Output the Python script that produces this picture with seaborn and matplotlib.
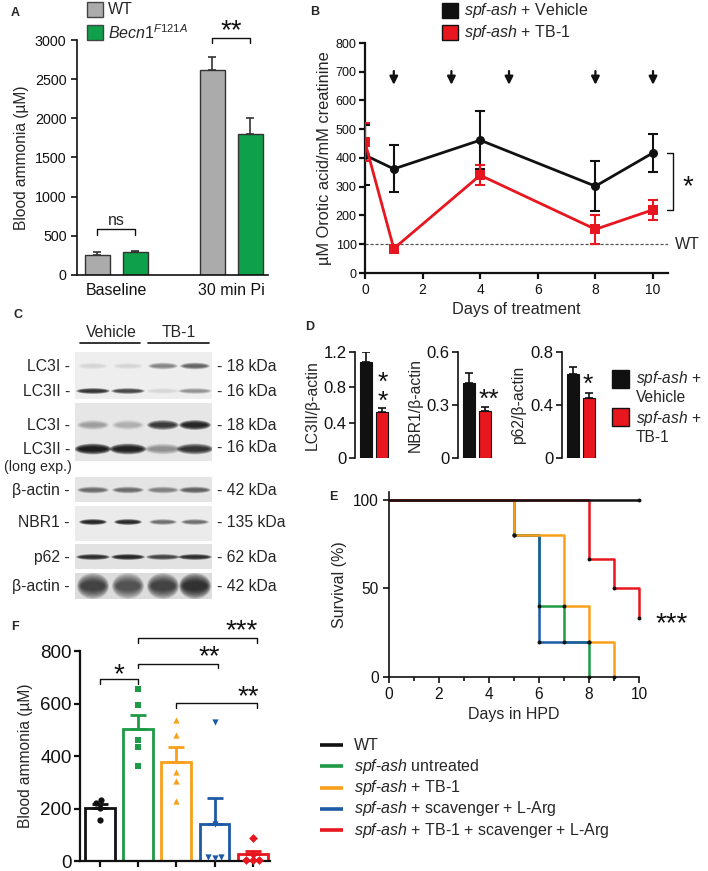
import numpy as np
import pandas as pd
import seaborn as sns
import matplotlib
matplotlib.use('Agg')
import matplotlib.pyplot as plt
from matplotlib.patches import Ellipse, Rectangle

# ---------------- data ----------------
# Panel A
a_groups = ['Baseline', '30 min Pi']
a_wt = [260, 2620]
a_wt_sem = [28, 160]
a_mut = [295, 1800]
a_mut_sem = [15, 200]

# Panel B
b_days = [0, 1, 4, 8, 10]
b_vehicle = [410, 362, 462, 302, 418]
b_vehicle_sem = [105, 82, 100, 88, 67]
b_tb1 = [455, 85, 340, 152, 220]
b_tb1_sem = [65, 13, 35, 51, 35]
b_dosing_days = [1, 3, 5, 8, 10]
b_wt_level = 100

# Panel C blot band intensities (lanes: Vehicle, Vehicle, TB-1, TB-1)
c_lc3i_short = [0.06, 0.06, 0.30, 0.45]
c_lc3ii_short = [0.75, 0.60, 0.05, 0.25]
c_lc3i_long = [0.20, 0.15, 0.70, 0.90]
c_lc3ii_long = [1.00, 0.95, 0.25, 0.75]
c_actin_1 = [0.40, 0.40, 0.30, 0.45]
c_nbr1 = [0.90, 0.85, 0.40, 0.40]
c_p62 = [0.80, 0.90, 0.60, 0.80]
c_actin_2 = [0.60, 0.50, 0.60, 0.75]

# Panel D
d_labels = ['LC3II/β-actin', 'NBR1/β-actin', 'p62/β-actin']
d_vehicle = [1.09, 0.425, 0.634]
d_vehicle_sem = [0.11, 0.057, 0.055]
d_tb1 = [0.52, 0.266, 0.455]
d_tb1_sem = [0.046, 0.025, 0.033]
d_ymax = [1.2, 0.6, 0.8]
d_ticks = [[0, 0.4, 0.8, 1.2], [0, 0.3, 0.6], [0, 0.4, 0.8]]
d_ticklabels = [['0', '0.4', '0.8', '1.2'], ['0', '0.3', '0.6'], ['0', '0.4', '0.8']]

# Panel E (Kaplan-Meier steps)
e_wt_days = [0, 10]
e_wt_surv = [100, 100]
e_untr_days = [0, 5, 6, 7, 8]
e_untr_surv = [100, 80, 40, 20, 0]
e_tb1_days = [0, 5, 7, 8, 9]
e_tb1_surv = [100, 80, 40, 20, 0]
e_scav_days = [0, 5, 6, 8]
e_scav_surv = [100, 80, 20, 20]
e_combo_days = [0, 8, 9, 10]
e_combo_surv = [100, 66.7, 50, 33.3]

# Panel F
f_groups = ['WT', 'untreated', 'TB-1', 'scavenger', 'combo']
f_wt = [233, 220, 201, 157]
f_untr = [655, 596, 462, 434, 361]
f_tb1 = [539, 481, 340, 305, 227]
f_scav = [529, 140, 16, 13, 15]
f_combo = [88, 28, 4, 3, 2]
f_sem = [15, 53, 57, 97, 14]

legend_labels = ['WT',
                 r'$\mathit{spf}$-$\mathit{ash}$ untreated',
                 r'$\mathit{spf}$-$\mathit{ash}$ + TB-1',
                 r'$\mathit{spf}$-$\mathit{ash}$ + scavenger + L-Arg',
                 r'$\mathit{spf}$-$\mathit{ash}$ + TB-1 + scavenger + L-Arg']

# ---------------- style ----------------
sns.set_style('ticks')
plt.rcParams['font.family'] = ['Liberation Sans', 'DejaVu Sans']
plt.rcParams['mathtext.fontset'] = 'custom'
plt.rcParams['mathtext.rm'] = 'Liberation Sans'
plt.rcParams['mathtext.it'] = 'Liberation Sans:italic'
plt.rcParams['mathtext.bf'] = 'Liberation Sans:bold'
plt.rcParams['axes.edgecolor'] = '#111111'
plt.rcParams['xtick.color'] = '#111111'
plt.rcParams['ytick.color'] = '#111111'

BLACK = '#111111'
GRAY = '#ababab'
GREEN_A = '#0ea04a'
RED = '#e8161e'
GREEN = '#1e9a46'
ORANGE = '#f9a01b'
BLUE = '#1d5aa5'
f_colors = [BLACK, GREEN, ORANGE, BLUE, RED]
f_markers = ['o', 's', '^', 'v', 'D']

W, H = 708, 871
fig = plt.figure(figsize=(W / 100, H / 100), dpi=100)
fig.patch.set_facecolor('white')


def add_ax(l, t, r, b):
    return fig.add_axes([l / W, 1 - b / H, (r - l) / W, (b - t) / H])


def bracket(ax, x1, x2, y, h, lw=1.0):
    ax.plot([x1, x1, x2, x2], [y - h, y, y, y - h], color=BLACK, lw=lw, clip_on=False)


def stars(ax, x, y, s, fs=20, ls=1.2):
    ax.text(x, y, s, ha='center', va='center', fontsize=fs, color=BLACK, clip_on=False,
            linespacing=ls)


def style_axis(ax, lw=1.2):
    sns.despine(ax=ax)
    for sp in ('left', 'bottom'):
        ax.spines[sp].set_linewidth(lw)
        ax.spines[sp].set_color(BLACK)
    ax.tick_params(width=lw, length=4, color=BLACK)


# ---------------- Panel A ----------------
axA = add_ax(77, 40, 268, 275)
dfA = pd.DataFrame({'group': a_groups * 2,
                    'geno': ['WT'] * 2 + ['Becn1'] * 2,
                    'value': a_wt + a_mut})
sns.barplot(data=dfA, x='group', y='value', hue='geno', palette=[GRAY, GREEN_A],
            width=0.66, gap=0.34, edgecolor='#333333', linewidth=1.0,
            errorbar=None, legend=False, saturation=1, ax=axA)
xs = np.arange(2)
axA.errorbar(xs - 0.165, a_wt, yerr=[np.zeros(2), a_wt_sem], fmt='none',
             ecolor='#333333', elinewidth=1.2, capsize=3, capthick=1.2)
axA.errorbar(xs + 0.165, a_mut, yerr=[np.zeros(2), a_mut_sem], fmt='none',
             ecolor='#333333', elinewidth=1.2, capsize=3, capthick=1.2)
axA.set_xlim(-0.34, 1.32)
axA.set_ylim(0, 3000)
axA.set_yticks(range(0, 3001, 500))
style_axis(axA)
axA.tick_params(axis='y', labelsize=10.3)
axA.tick_params(axis='x', length=0, labelsize=11.5, pad=6)
axA.set_xlabel('')
axA.set_ylabel('Blood ammonia (µM)', fontsize=11.2, labelpad=4)
bracket(axA, -0.165, 0.165, 587, 75)
axA.text(0, 700, 'ns', ha='center', va='center', fontsize=11.5)
bracket(axA, 0.835, 1.165, 3030, 70)
stars(axA, 1.0, 3110, '**')

# ---------------- Panel B ----------------
axB = add_ax(365, 43, 668, 273)
dfB = pd.DataFrame({'day': b_days * 2,
                    'val': b_vehicle + b_tb1,
                    'grp': ['Vehicle'] * 5 + ['TB-1'] * 5})
sns.lineplot(data=dfB, x='day', y='val', hue='grp', palette=[BLACK, RED],
             style='grp', markers=['o', 's'], dashes=False, markersize=6.5,
             markeredgewidth=0, lw=2, legend=False, ax=axB)
axB.errorbar(b_days, b_vehicle, yerr=b_vehicle_sem, fmt='none', ecolor=BLACK,
             elinewidth=1.5, capsize=3.5, capthick=1.5, zorder=1)
axB.errorbar(b_days, b_tb1, yerr=b_tb1_sem, fmt='none', ecolor=RED,
             elinewidth=1.5, capsize=3.5, capthick=1.5, zorder=3)
axB.axhline(b_wt_level, ls=(0, (2.5, 1.5)), color='#555555', lw=0.9, zorder=0)
for d in b_dosing_days:
    axB.annotate('', xy=(d, 645), xytext=(d, 712),
                 arrowprops=dict(arrowstyle='-|>', color=BLACK, lw=1.6, mutation_scale=12))
axB.set_xlim(0, 10.52)
axB.set_ylim(0, 800)
axB.set_xticks(range(0, 11, 2))
axB.set_yticks(range(0, 801, 100))
style_axis(axB, lw=1.6)
axB.tick_params(axis='y', labelsize=9, pad=2)
axB.tick_params(axis='x', labelsize=10, pad=3)
axB.set_xlabel('Days of treatment', fontsize=11.7, labelpad=4)
axB.set_ylabel('µM Orotic acid/mM creatinine', fontsize=11.8, labelpad=3)
axB.text(10.75, b_wt_level, 'WT', ha='left', va='center', fontsize=11.5, clip_on=False)
axB.plot([10.5, 10.7, 10.7, 10.5], [418, 418, 220, 220], color=BLACK, lw=1.0, clip_on=False)
stars(axB, 11.2, 300, '*')

# ---------------- Panel D ----------------
d_left = [355, 458, 562]
for i in range(3):
    ax = add_ax(d_left[i], 352, d_left[i] + 36, 458)
    dfD = pd.DataFrame({'grp': ['Vehicle', 'TB-1'], 'val': [d_vehicle[i], d_tb1[i]]})
    sns.barplot(data=dfD, x='grp', y='val', hue='grp', palette=[BLACK, RED],
                width=0.77, edgecolor=BLACK, linewidth=0.8, errorbar=None,
                legend=False, saturation=1, ax=ax)
    ax.errorbar([0, 1], [d_vehicle[i], d_tb1[i]],
                yerr=[[0, 0], [d_vehicle_sem[i], d_tb1_sem[i]]], fmt='none',
                ecolor=BLACK, elinewidth=1.2, capsize=3, capthick=1.2)
    ax.set_xlim(-0.7, 1.6)
    ax.set_ylim(0, d_ymax[i])
    ax.set_yticks(d_ticks[i])
    ax.set_yticklabels(d_ticklabels[i])
    style_axis(ax)
    ax.spines['bottom'].set_visible(False)
    ax.set_xticks([])
    ax.tick_params(axis='y', labelsize=12, pad=2)
    ax.set_xlabel('')
    ax.set_ylabel(d_labels[i], fontsize=11.3, labelpad=3)
    if i == 0:
        stars(ax, 1.05, 0.74, '*\n*', fs=19, ls=0.75)
    elif i == 1:
        stars(ax, 1.3, 0.33, '**', fs=19)
    else:
        stars(ax, 0.95, 0.55, '*', fs=19)

# ---------------- Panel E ----------------
axE = add_ax(389, 492, 639, 677)
curves = [(e_untr_days, e_untr_surv, GREEN), (e_scav_days, e_scav_surv, BLUE),
          (e_tb1_days, e_tb1_surv, ORANGE), (e_combo_days, e_combo_surv, RED),
          (e_wt_days, e_wt_surv, BLACK)]
for days, surv, col in curves:
    sns.lineplot(x=days, y=surv, color=col, lw=1.8, drawstyle='steps-post', ax=axE,
                 estimator=None, clip_on=False)
    axE.plot(days[1:], surv[1:], ls='none', marker='o', ms=1.8, color=BLACK, zorder=5,
             clip_on=False)
axE.set_xlim(0, 10)
axE.set_ylim(0, 104.5)
axE.set_xticks(range(0, 11, 2))
axE.set_xticks(range(0, 11), minor=True)
axE.set_yticks([0, 50, 100])
style_axis(axE)
axE.tick_params(which='minor', length=3, width=1.2, color=BLACK)
axE.tick_params(axis='both', labelsize=11.2)
axE.set_xlabel('Days in HPD', fontsize=11.5, labelpad=3)
axE.set_ylabel('Survival (%)', fontsize=11.5, labelpad=4)
stars(axE, 11.3, 30, '***')

# ---------------- Panel F ----------------
axF = add_ax(80, 651, 270, 861)
f_all = [f_wt, f_untr, f_tb1, f_scav, f_combo]
dfF = pd.DataFrame({'grp': sum([[g] * len(v) for g, v in zip(f_groups, f_all)], []),
                    'val': sum(f_all, [])})
sns.barplot(data=dfF, x='grp', y='val', hue='grp', order=f_groups, hue_order=f_groups,
            palette=f_colors, fill=False, linewidth=2.0, width=0.78, errorbar=None,
            legend=False, saturation=1, ax=axF)
f_means = dfF.groupby('grp', sort=False)['val'].mean().reindex(f_groups).values
for i, (g, m, c) in enumerate(zip(f_groups, f_markers, f_colors)):
    axF.errorbar([i], [f_means[i]], yerr=[[0], [f_sem[i]]], fmt='none', ecolor=c,
                 elinewidth=2.0, capsize=6, capthick=2.0)
    sub = dfF[dfF.grp == g]
    sns.swarmplot(data=sub, x='grp', y='val', order=f_groups, marker=m, color=c,
                  size=4.5, linewidth=0, ax=axF, clip_on=False)
axF.set_xlim(-0.52, 4.45)
axF.set_ylim(0, 800)
axF.set_yticks(range(0, 801, 200))
axF.set_xticks(range(5))
axF.set_xticklabels([])
style_axis(axF, lw=1.6)
axF.tick_params(axis='y', labelsize=13.5, pad=2)
axF.set_xlabel('')
axF.set_ylabel('Blood ammonia (µM)', fontsize=11.2, labelpad=5)
bracket(axF, 0, 1, 695, 22)
stars(axF, 0.5, 708, '*')
bracket(axF, 1, 4.1, 850, 18)
stars(axF, 3.7, 875, '***')
bracket(axF, 1, 3.1, 752, 18)
stars(axF, 2.85, 775, '**')
bracket(axF, 2, 4.1, 602, 18)
stars(axF, 3.87, 625, '**')

# ---------------- overlay (pixel coordinates) ----------------
ov = fig.add_axes([0, 0, 1, 1], zorder=10)
ov.set_xlim(0, W)
ov.set_ylim(H, 0)
ov.axis('off')

# panel letters
for letter, (x, y) in zip('ABCDEF', [(15, 13), (315, 12), (18, 315), (310, 327),
                                      (333, 497), (15, 627)]):
    ov.text(x, y, letter, fontsize=9, fontweight='bold', ha='center', va='center')

# legend A
ov.add_patch(Rectangle((87, 2), 16, 15, facecolor=GRAY, edgecolor='#444444', lw=1))
ov.text(108, 10, 'WT', fontsize=11.5, va='center')
ov.add_patch(Rectangle((87, 25), 16, 15, facecolor=GREEN_A, edgecolor='#444444', lw=1))
ov.text(108, 33, r'$\mathit{Becn1}^{\mathit{F121A}}$', fontsize=11.5, va='center')

# legend B
ov.add_patch(Rectangle((442, 3), 16, 15, facecolor=BLACK, edgecolor=BLACK, lw=1))
ov.text(464, 10, r'$\mathit{spf}$-$\mathit{ash}$ + Vehicle', fontsize=11.5, va='center')
ov.add_patch(Rectangle((442, 25), 16, 15, facecolor=RED, edgecolor=BLACK, lw=1))
ov.text(464, 33, r'$\mathit{spf}$-$\mathit{ash}$ + TB-1', fontsize=11.5, va='center')

# legend D
ov.add_patch(Rectangle((612, 370), 17, 18, facecolor=BLACK, edgecolor=BLACK, lw=1))
ov.text(636, 378, r'$\mathit{spf}$-$\mathit{ash}$ +', fontsize=11.2, va='center')
ov.text(636, 397, 'Vehicle', fontsize=11.2, va='center')
ov.add_patch(Rectangle((612, 408), 17, 18, facecolor=RED, edgecolor=BLACK, lw=1))
ov.text(636, 418, r'$\mathit{spf}$-$\mathit{ash}$ +', fontsize=11.2, va='center')
ov.text(636, 437, 'TB-1', fontsize=11.2, va='center')

# legend E/F
for k, (lab, col) in enumerate(zip(legend_labels, f_colors)):
    y = 745 + k * 21.3
    ov.plot([320, 343], [y, y], color=col, lw=2.6, solid_capstyle='butt')
    ov.text(354, y, lab, fontsize=11.5, va='center')

# ---- Panel C western blot ----
ov.text(111, 332, 'Vehicle', fontsize=11.3, ha='center', va='center')
ov.plot([80, 140], [343, 343], color=BLACK, lw=1.2)
ov.text(179, 332, 'TB-1', fontsize=11.3, ha='center', va='center')
ov.plot([148, 209], [343, 343], color=BLACK, lw=1.2)

lane_x = [93, 128, 163, 195]
strips = [(352, 399, '#eeeeee'), (403, 461, '#e6e6e6'), (477, 502, '#e5e5e5'),
          (506, 541, '#ebebeb'), (544, 569, '#e2e2e2'), (573, 599, '#dcdcdc')]
strip_rects = []
for top, bot, bg in strips:
    r = Rectangle((75, top), 137, bot - top, facecolor=bg, edgecolor='none')
    ov.add_patch(r)
    strip_rects.append(r)

bands = [(c_lc3i_short, 366, 7, 30, 0), (c_lc3ii_short, 391, 6, 34, 0),
         (c_lc3i_long, 425, 10, 32, 1), (c_lc3ii_long, 449, 11, 37, 1),
         (c_actin_1, 490, 7, 32, 2), (c_nbr1, 522, 6, 28, 3),
         (c_p62, 557, 6, 34, 4), (c_actin_2, 586, 26, 32, 5)]
for inten, yc, h, w, si in bands:
    for xc, val in zip(lane_x, inten):
        n = 8
        for k in range(n):
            f = k / n
            e = Ellipse((xc, yc), w * (1 - 0.3 * f), h * (1 - 0.75 * f),
                        facecolor='black', edgecolor='none', alpha=min(1.0, val * 0.22))
            ov.add_patch(e)
            e.set_clip_path(strip_rects[si])

left_labels = [('LC3I -', 366), ('LC3II -', 391), ('LC3I -', 425), ('LC3II -', 449),
               ('β-actin -', 490), ('NBR1 -', 522), ('p62 -', 557), ('β-actin -', 586)]
for lab, y in left_labels:
    ov.text(70, y, lab, fontsize=11.3, ha='right', va='center')
ov.text(72, 467, '(long exp.)', fontsize=10.3, ha='right', va='center')
right_labels = [('- 18 kDa', 366), ('- 16 kDa', 391), ('- 18 kDa', 425), ('- 16 kDa', 447),
                ('- 42 kDa', 490), ('- 135 kDa', 522), ('- 62 kDa', 557), ('- 42 kDa', 586)]
for lab, y in right_labels:
    ov.text(217, y, lab, fontsize=11.3, ha='left', va='center')

fig.savefig('out.png', dpi=100, facecolor='white')
